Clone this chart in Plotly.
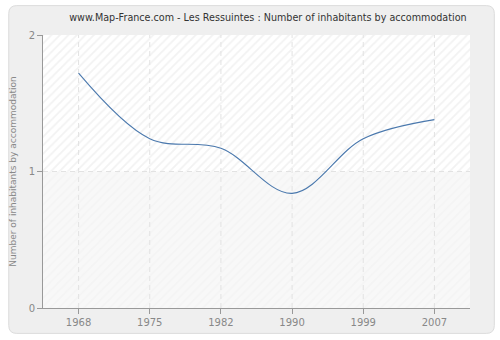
import plotly.graph_objects as go

years = ["1968", "1975", "1982", "1990", "1999", "2007"]
values = [1.72, 1.24, 1.17, 0.84, 1.24, 1.38]
y_ticks = [0, 1, 2]
title = "www.Map-France.com - Les Ressuintes : Number of inhabitants by accommodation"
y_title = "Number of inhabitants by accommodation"

W, H = 500, 340
L, R, T, B = 40, 30, 35, 31
pw = W - L - R
ph = H - T - B

def px2paper_x(p):
    return (p - L) / pw

def px2paper_y(p):
    return 1 - (p - T) / ph

xs = list(range(len(years)))
fig = go.Figure()

# background hatch bands (decoration)
xr = [-0.5, len(years) - 0.5]
yr = [y_ticks[0], y_ticks[-1]]
fig.add_trace(go.Scatter(
    x=[xr[0], xr[1], xr[1], xr[0], xr[0]], y=[1, 1, 2, 2, 1],
    fill="toself", mode="none", fillcolor="white",
    fillpattern=dict(shape="/", fgcolor="#e6e6e6", bgcolor="white", size=6, solidity=0.3),
    hoverinfo="skip", showlegend=False))
fig.add_trace(go.Scatter(
    x=[xr[0], xr[1], xr[1], xr[0], xr[0]], y=[0, 0, 1, 1, 0],
    fill="toself", mode="none", fillcolor="#f8f8f8",
    fillpattern=dict(shape="/", fgcolor="#efefef", bgcolor="#f8f8f8", size=6, solidity=0.3),
    hoverinfo="skip", showlegend=False))

# dashed grid (drawn over the hatch)
gx, gy = [], []
for x in xs:
    gx += [x, x, None]
    gy += [yr[0], yr[1], None]
for y in y_ticks[1:-1]:
    gx += [xr[0], xr[1], None]
    gy += [y, y, None]
fig.add_trace(go.Scatter(x=gx, y=gy, mode="lines",
                         line=dict(color="#e2e2e2", width=1, dash="5px,4px"),
                         hoverinfo="skip", showlegend=False))

fig.add_trace(go.Scatter(
    x=xs, y=values, mode="lines",
    line=dict(color="#4a78ad", width=1.1, shape="spline", smoothing=1.0),
    showlegend=False))

# outer rounded panel
x0, x1 = px2paper_x(5.5), px2paper_x(494.5)
y0, y1 = px2paper_y(334.5), px2paper_y(5.5)
rx = 8 / pw
ry = 8 / ph
path = (f"M {x0+rx},{y1} L {x1-rx},{y1} Q {x1},{y1} {x1},{y1-ry} "
        f"L {x1},{y0+ry} Q {x1},{y0} {x1-rx},{y0} L {x0+rx},{y0} "
        f"Q {x0},{y0} {x0},{y0+ry} L {x0},{y1-ry} Q {x0},{y1} {x0+rx},{y1} Z")
fig.add_shape(type="path", path=path, xref="paper", yref="paper",
              fillcolor="#efefef", line=dict(color="#dcdcdc", width=1), layer="below")
fig.add_shape(type="rect", xref="paper", yref="paper", x0=0, x1=1, y0=0, y1=1,
              fillcolor="white", line=dict(width=0), layer="below")

font = "DejaVu Sans, Verdana, sans-serif"
fig.update_layout(
    width=W, height=H,
    margin=dict(l=L, r=R, t=T, b=B),
    paper_bgcolor="white", plot_bgcolor="rgba(0,0,0,0)",
    title=dict(text=title, x=px2paper_x(266.5), xref="paper", xanchor="center", y=1 - 18/H, yanchor="middle",
               font=dict(family=font, size=9.6, color="#333")),
    xaxis=dict(range=xr, tickvals=xs, ticktext=years, showgrid=False,
               showline=True, linecolor="#999", linewidth=1, ticks="outside",
               ticklen=5, tickcolor="#999", zeroline=False,
               tickfont=dict(family=font, size=10, color="#888")),
    yaxis=dict(range=yr, tickvals=y_ticks, showgrid=False,
               showline=True, linecolor="#999", linewidth=1, ticks="outside",
               ticklen=5, tickcolor="#999", zeroline=False,
               tickfont=dict(family=font, size=10, color="#888"),
               title=dict(text=y_title, font=dict(family=font, size=9, color="#888"), standoff=10)),
)
fig.write_html("out.html")
